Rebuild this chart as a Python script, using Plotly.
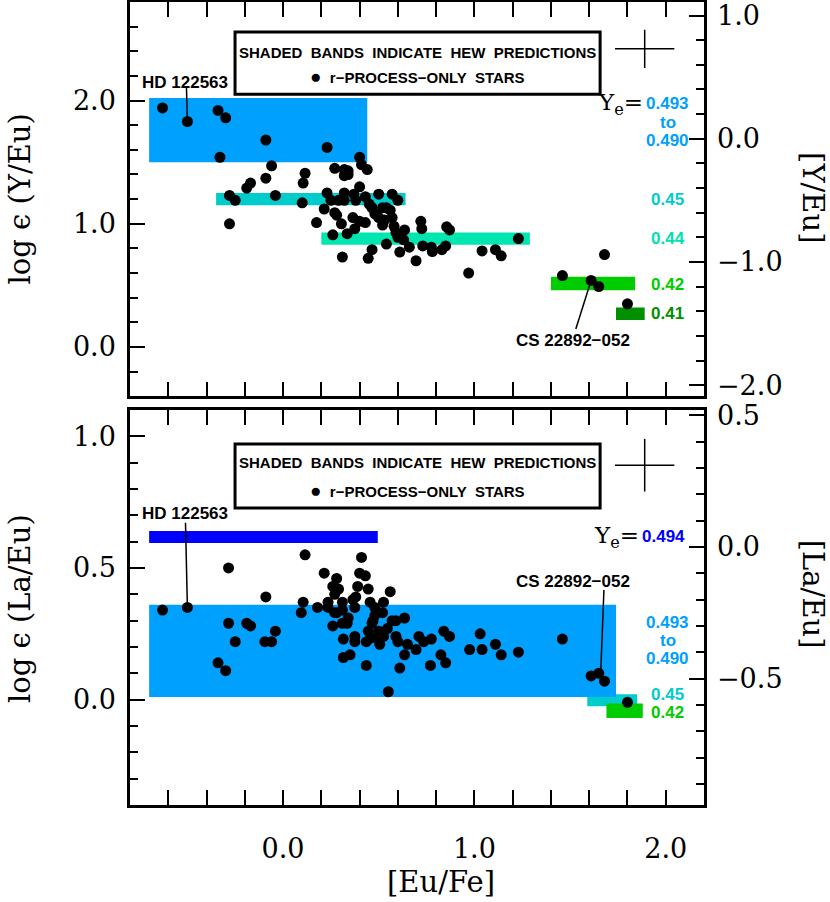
import plotly.graph_objects as go

# ---- data: top panel, log eps(Y/Eu) vs [Eu/Fe] ----
y_eufe = [-0.63, -0.50, -0.34, -0.30, -0.33, -0.09, 0.23, -0.06, -0.09, -0.17,
          -0.19, -0.28, -0.25, -0.04, -0.28, 0.115, 0.105, 0.10, 0.175, 0.215,
          0.26, 0.27, 0.23, 0.25, 0.27, 0.40, 0.41, 0.44, 0.32, 0.34,
          0.32, 0.34, 0.40, 0.32, 0.37, 0.29, 0.32, 0.38, 0.43, 0.50,
          0.57, 0.60, 0.45, 0.465, 0.48, 0.52, 0.54, 0.56, 0.50, 0.53,
          0.57, 0.52, 0.58, 0.28, 0.365, 0.40, 0.43, 0.305, 0.375, 0.335,
          0.59, 0.60, 0.635, 0.63, 0.72, 0.725, 0.66, 0.61, 0.54, 0.465,
          0.445, 0.31, 0.695, 0.73, 0.775, 0.78, 0.83, 0.85, 0.855, 0.87,
          1.04, 0.97, 1.23, 1.11, 1.14, 1.68, 1.46, 1.61, 1.65, 1.80]
y_logeps = [1.94, 1.83, 1.92, 1.86, 1.54, 1.68, 1.62, 1.47, 1.37, 1.33,
            1.29, 1.23, 1.19, 1.23, 1.00, 1.41, 1.33, 1.17, 1.01, 1.12,
            0.91, 1.45, 1.25, 1.19, 1.09, 1.54, 1.48, 1.44, 1.44, 1.43,
            1.39, 1.40, 1.30, 1.25, 1.24, 1.19, 1.19, 1.19, 1.22, 1.24,
            1.24, 1.19, 1.16, 1.13, 1.08, 1.13, 1.13, 1.11, 1.05, 1.03,
            1.05, 0.99, 0.98, 1.07, 1.05, 1.02, 1.01, 1.00, 0.96, 0.92,
            0.93, 0.89, 0.95, 0.87, 1.02, 0.96, 0.81, 0.77, 0.835, 0.79,
            0.72, 0.73, 0.70, 0.82, 0.81, 0.775, 0.79, 0.82, 0.975, 0.95,
            0.78, 0.60, 0.88, 0.79, 0.74, 0.75, 0.58, 0.54, 0.49, 0.35]

# ---- data: bottom panel, log eps(La/Eu) vs [Eu/Fe] ----
la_eufe = [-0.63, -0.50, -0.285, -0.285, -0.25, -0.34, -0.30, -0.19, -0.17, -0.09,
           -0.095, -0.06, -0.04, 0.115, 0.105, 0.095, 0.18, 0.215, 0.235, 0.235,
           0.26, 0.26, 0.27, 0.28, 0.28, 0.41, 0.40, 0.43, 0.29, 0.39,
           0.445, 0.56, 0.38, 0.365, 0.31, 0.375, 0.455, 0.525, 0.48, 0.52,
           0.27, 0.31, 0.48, 0.47, 0.465, 0.57, 0.59, 0.635, 0.34, 0.31,
           0.335, 0.445, 0.50, 0.545, 0.46, 0.50, 0.525, 0.59, 0.435, 0.60,
           0.505, 0.375, 0.375, 0.315, 0.65, 0.71, 0.735, 0.775, 0.695, 0.635,
           0.35, 0.315, 0.435, 0.61, 0.55, 0.825, 0.85, 0.77, 0.84, 0.87,
           0.975, 1.03, 1.04, 1.11, 1.14, 1.23, 1.46, 1.61, 1.65, 1.68, 1.80]
la_logeps = [0.34, 0.35, 0.50, 0.29, 0.22, 0.14, 0.11, 0.29, 0.28, 0.39,
             0.22, 0.22, 0.26, 0.55, 0.37, 0.33, 0.35, 0.48, 0.37, 0.35,
             0.28, 0.43, 0.40, 0.46, 0.33, 0.54, 0.48, 0.47, 0.42, 0.43,
             0.42, 0.41, 0.39, 0.38, 0.37, 0.35, 0.37, 0.37, 0.35, 0.33,
             0.33, 0.34, 0.32, 0.30, 0.29, 0.30, 0.30, 0.31, 0.31, 0.29,
             0.29, 0.26, 0.26, 0.27, 0.235, 0.23, 0.24, 0.24, 0.22, 0.22,
             0.21, 0.24, 0.22, 0.23, 0.21, 0.24, 0.22, 0.23, 0.19, 0.17,
             0.17, 0.16, 0.13, 0.12, 0.03, 0.17, 0.14, 0.13, 0.26, 0.24,
             0.19, 0.25, 0.19, 0.21, 0.17, 0.18, 0.23, 0.09, 0.10, 0.07, -0.01]

# HEW prediction bands: [x0, x1, y0, y1], colour
y_bands = [
    ([-0.70, 0.44, 1.50, 2.02], "#00a0ff"),   # Ye 0.493 - 0.490
    ([-0.35, 0.64, 1.15, 1.25], "#00cccc"),   # 0.45
    ([0.20, 1.29, 0.83, 0.93], "#00e6b0"),    # 0.44
    ([1.40, 1.84, 0.46, 0.57], "#00cc00"),    # 0.42
    ([1.74, 1.89, 0.22, 0.32], "#008f00"),    # 0.41
]
la_bands = [
    ([-0.70, 0.495, 0.595, 0.64], "#0000ff"),  # 0.494
    ([1.59, 1.85, -0.025, 0.02], "#00cccc"),   # 0.45
    ([-0.70, 1.74, 0.01, 0.36], "#00a0ff"),    # 0.493 - 0.490
    ([1.69, 1.88, -0.07, -0.015], "#00cc00"),  # 0.42
]

# band labels: (text, y, colour)
y_labels = [("0.493", 1.976, "#00a0ff"), ("to", 1.82, "#00a0ff"), ("0.490", 1.675, "#00a0ff"),
            ("0.45", 1.195, "#00cccc"), ("0.44", 0.878, "#00e0b0"),
            ("0.42", 0.504, "#00cc00"), ("0.41", 0.268, "#008f00")]
la_labels = [("0.493", 0.294, "#00a0ff"), ("to", 0.225, "#00a0ff"), ("0.490", 0.156, "#00a0ff"),
             ("0.45", 0.019, "#00cccc"), ("0.42", -0.05, "#00cc00")]

# typical error bars (center x, center y, err x, err y)
y_err = (1.89, 2.42, 0.155, 0.155)
la_err = (1.89, 0.89, 0.155, 0.10)

Y_SOLAR = 1.69
LA_SOLAR = 0.58

SERIF = "DejaVu Serif"
SANS = "Liberation Sans"

fig = go.Figure()

fig.add_trace(go.Scatter(x=y_eufe, y=y_logeps, mode="markers", xaxis="x", yaxis="y",
                         marker=dict(color="black", size=11), showlegend=False))
fig.add_trace(go.Scatter(x=la_eufe, y=la_logeps, mode="markers", xaxis="x2", yaxis="y2",
                         marker=dict(color="black", size=11), showlegend=False))

# error crosses
for (cx, cy, ex, ey), xa, ya in [(y_err, "x", "y"), (la_err, "x2", "y2")]:
    fig.add_trace(go.Scatter(x=[cx], y=[cy], mode="markers", xaxis=xa, yaxis=ya,
                             marker=dict(size=0.1, color="black"), showlegend=False,
                             error_x=dict(type="constant", value=ex, width=0, thickness=1.5, color="black"),
                             error_y=dict(type="constant", value=ey, width=0, thickness=1.5, color="black")))

# invisible traces to hold the right-hand axes
fig.add_trace(go.Scatter(x=[0], y=[0], xaxis="x", yaxis="y3", mode="markers",
                         marker=dict(opacity=0), showlegend=False, hoverinfo="skip"))
fig.add_trace(go.Scatter(x=[0], y=[0], xaxis="x2", yaxis="y4", mode="markers",
                         marker=dict(opacity=0), showlegend=False, hoverinfo="skip"))

shapes = []
for (x0, x1, y0, y1), col in y_bands:
    shapes.append(dict(type="rect", xref="x", yref="y", x0=x0, x1=x1, y0=y0, y1=y1,
                       fillcolor=col, line=dict(width=0), layer="below"))
for (x0, x1, y0, y1), col in la_bands:
    shapes.append(dict(type="rect", xref="x2", yref="y2", x0=x0, x1=x1, y0=y0, y1=y1,
                       fillcolor=col, line=dict(width=0), layer="below"))
# legend boxes
shapes.append(dict(type="rect", xref="x domain", yref="y domain", x0=0.183, x1=0.819,
                   y0=0.766, y1=0.924, line=dict(color="black", width=3), fillcolor="white"))
shapes.append(dict(type="rect", xref="x2 domain", yref="y2 domain", x0=0.183, x1=0.819,
                   y0=0.752, y1=0.914, line=dict(color="black", width=3), fillcolor="white"))

ann = []
for xa, ya, y1, y2 in [("x domain", "y domain", 0.873, 0.812), ("x2 domain", "y2 domain", 0.866, 0.797)]:
    ann.append(dict(xref=xa, yref=ya, x=0.5, y=y1, showarrow=False, xanchor="center", yanchor="middle",
                    text="<b>SHADED  BANDS  INDICATE  HEW  PREDICTIONS</b>",
                    font=dict(family=SANS, size=15, color="black")))
    ann.append(dict(xref=xa, yref=ya, x=0.5, y=y2, showarrow=False, xanchor="center", yanchor="middle",
                    text="<span style='font-size:19px'>\u25cf</span>  <b>r\u2212PROCESS\u2212ONLY  STARS</b>",
                    font=dict(family=SANS, size=15, color="black")))

for txt, yy, col in y_labels:
    ann.append(dict(xref="x", yref="y", x=2.01, y=yy, text="<b>%s</b>" % txt, showarrow=False,
                    yanchor="middle", font=dict(family=SANS, size=17, color=col)))
for txt, yy, col in la_labels:
    ann.append(dict(xref="x2", yref="y2", x=2.01, y=yy, text="<b>%s</b>" % txt, showarrow=False,
                    yanchor="middle", font=dict(family=SANS, size=17, color=col)))

ann.append(dict(xref="x", yref="y", x=1.89, y=1.976, xanchor="right", yanchor="middle", showarrow=False,
                text="Y<sub>e</sub>=", font=dict(family=SERIF, size=23, color="black")))
ann.append(dict(xref="x2", yref="y2", x=1.87, y=0.618, xanchor="right", yanchor="middle", showarrow=False,
                text="Y<sub>e</sub>=", font=dict(family=SERIF, size=23, color="black")))
ann.append(dict(xref="x2", yref="y2", x=1.865, y=0.618, xanchor="left", yanchor="middle", showarrow=False,
                text="<b>0.494</b>", font=dict(family=SANS, size=17, color="#0000ff")))

# star labels: (xa, ya, text x, text y, line start x, line start y, star x, star y, text)
star_labels = [
    ("x", "y", -0.515, 2.146, -0.505, 2.11, -0.50, 1.83, "HD 122563"),
    ("x", "y", 1.516, 0.049, 1.53, 0.146, 1.61, 0.54, "CS 22892\u2212052"),
    ("x2", "y2", -0.515, 0.706, -0.51, 0.672, -0.50, 0.35, "HD 122563"),
    ("x2", "y2", 1.516, 0.447, 1.677, 0.416, 1.66, 0.10, "CS 22892\u2212052"),
]
for xa, ya, tx, ty, lx, ly, sx, sy, txt in star_labels:
    ann.append(dict(xref=xa, yref=ya, x=tx, y=ty, text="<b>%s</b>" % txt, showarrow=False,
                    yanchor="middle", font=dict(family=SANS, size=17, color="black")))
    shapes.append(dict(type="line", xref=xa, yref=ya, x0=lx, y0=ly, x1=sx, y1=sy,
                       line=dict(color="black", width=1.5), layer="below"))

# axis titles
title_font = dict(family=SERIF, size=29, color="black")
for x, y, txt, ang in [(-0.192, 0.755, "log \u03f5 (Y/Eu)", -90),
                       (-0.192, 0.245, "log \u03f5 (La/Eu)", -90),
                       (1.19, 0.757, "[Y/Eu]", 90),
                       (1.19, 0.263, "[La/Eu]", 90),
                       (0.541, -0.096, "[Eu/Fe]", 0)]:
    ann.append(dict(xref="paper", yref="paper", x=x, y=y, text=txt, textangle=ang,
                    showarrow=False, font=title_font, xanchor="center", yanchor="middle"))

tick_font = dict(family=SERIF, size=27, color="black")
minor_y = dict(ticklen=8, tickwidth=2, ticks="inside", tickcolor="black")
common = dict(showgrid=False, zeroline=False, ticks="inside", ticklen=15, tickwidth=2,
              tickcolor="black", linecolor="black", linewidth=2.5, showline=True,
              tickfont=tick_font, tickformat=".1f", automargin=False)

fig.update_layout(
    width=830, height=902,
    margin=dict(l=130, r=126, t=2, b=97),
    plot_bgcolor="white", paper_bgcolor="white",
    showlegend=False,
    shapes=shapes, annotations=ann,
    xaxis=dict(common, domain=[0, 1], anchor="y", range=[-0.8, 2.2], dtick=1, tick0=0,
               mirror="allticks", showticklabels=False, matches="x2",
               minor=dict(minor_y, dtick=0.2)),
    yaxis=dict(common, domain=[0.509, 1], anchor="x", range=[-0.4, 2.8], dtick=1, tick0=0,
               mirror=True, ticklabelstandoff=6, minor=dict(minor_y, dtick=0.2)),
    yaxis3=dict(common, overlaying="y", side="right", anchor="x", showline=False,
                range=[-0.4 - Y_SOLAR, 2.8 - Y_SOLAR], dtick=1, tick0=0, ticklabelstandoff=12,
                minor=dict(minor_y, dtick=0.2)),
    xaxis2=dict(common, domain=[0, 1], anchor="y2", range=[-0.8, 2.2], dtick=1, tick0=0,
                mirror="allticks", ticklabelstandoff=18, minor=dict(minor_y, dtick=0.2)),
    yaxis2=dict(common, domain=[0, 0.492], anchor="x2", range=[-0.4, 1.1], dtick=0.5, tick0=0,
                mirror=True, ticklabelstandoff=6, minor=dict(minor_y, dtick=0.1)),
    yaxis4=dict(common, overlaying="y2", side="right", anchor="x2", showline=False,
                range=[-0.4 - LA_SOLAR, 1.1 - LA_SOLAR], dtick=0.5, tick0=0, ticklabelstandoff=12,
                minor=dict(minor_y, dtick=0.1)),
)

# page body has a default margin; drop it so the figure sits at the window corner
fig.write_html("out.html", config={"displayModeBar": False},
               post_script="document.body.style.margin='0';")
